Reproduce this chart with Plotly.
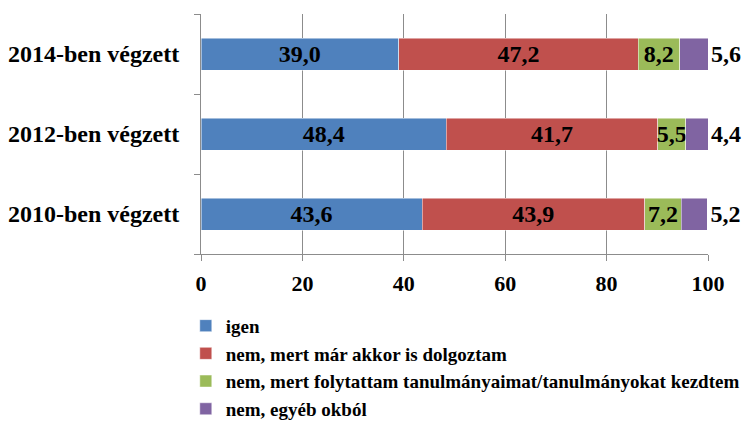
import plotly.graph_objects as go

categories = ["2010-ben végzett", "2012-ben végzett", "2014-ben végzett"]
series_names = [
    "igen",
    "nem, mert már akkor is dolgoztam",
    "nem, mert folytattam tanulmányaimat/tanulmányokat kezdtem",
    "nem, egyéb okból",
]
igen = [43.6, 48.4, 39.0]
nem_dolgoztam = [43.9, 41.7, 47.2]
nem_tanulmany = [7.2, 5.5, 8.2]
nem_egyeb = [5.2, 4.4, 5.6]
x_ticks = [0, 20, 40, 60, 80, 100]

colors = ["#4F81BD", "#C0504D", "#9BBB59", "#8064A2"]
values = [igen, nem_dolgoztam, nem_tanulmany, nem_egyeb]

FONT = "Liberation Serif"

fig = go.Figure()
for i, (name, vals, col) in enumerate(zip(series_names, values, colors)):
    last = i == len(values) - 1
    fig.add_trace(go.Bar(
        y=categories, x=vals, name="<b>" + name + "</b>", orientation="h",
        marker=dict(color=col, line=dict(color="rgba(255,255,255,0.8)", width=0.6)),
        texttemplate="<b>%{x:.1f}</b>",
        textposition="outside" if last else "inside",
        insidetextanchor="middle",
        constraintext="none",
        textangle=0,
        cliponaxis=False,
        textfont=dict(family=FONT, size=24, color="black"),
        hoverinfo="skip",
    ))

fig.update_layout(
    width=744, height=438,
    barmode="stack", bargap=0.6,
    separators=", ",
    paper_bgcolor="white", plot_bgcolor="white",
    margin=dict(l=201, r=36, t=14, b=184, autoexpand=False),
    font=dict(family=FONT, size=20, color="black"),
    showlegend=True,
    legend=dict(
        orientation="v", traceorder="normal",
        x=-0.03, xanchor="left", y=-0.22, yanchor="top",
        font=dict(family=FONT, size=19, color="black"),
        bgcolor="rgba(0,0,0,0)", itemwidth=30,
        tracegroupgap=0,
    ),
    xaxis=dict(
        range=[0, 100], tickvals=x_ticks,
        ticktext=["<b>%d</b>" % t for t in x_ticks],
        showgrid=True, gridcolor="#8C8C8C", gridwidth=1,
        showline=True, linecolor="#8C8C8C", linewidth=1,
        ticks="outside", ticklen=6, tickcolor="#8C8C8C",
        ticklabelstandoff=4, zeroline=False,
        tickfont=dict(family=FONT, size=22, color="black"),
        fixedrange=True,
    ),
    yaxis=dict(
        categoryorder="array", categoryarray=categories,
        tickvals=categories,
        ticktext=["<b>" + c + "</b>" for c in categories],
        showgrid=False, showline=True, linecolor="#8C8C8C", linewidth=1,
        ticks="outside", ticklen=6, tickcolor="#8C8C8C", tickson="boundaries",
        ticklabelstandoff=16,
        tickfont=dict(family=FONT, size=24, color="black"),
        fixedrange=True,
    ),
)

fig.write_html(
    "out.html",
    config={"displayModeBar": False},
    post_script="document.body.style.margin='0';document.body.style.overflow='hidden';",
)
